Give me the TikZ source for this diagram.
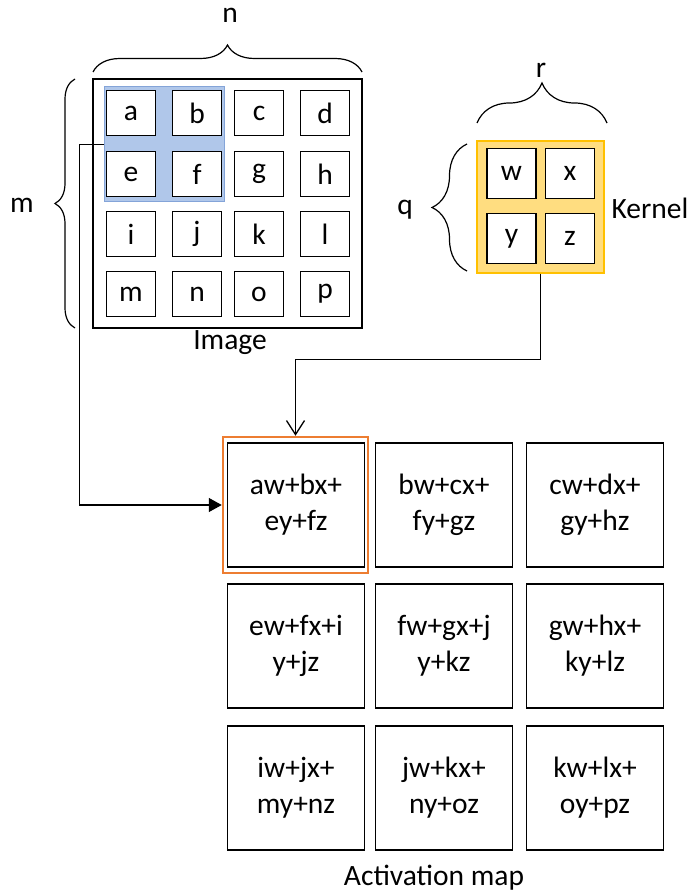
\documentclass[tikz,border=0pt]{standalone}
\usepackage{fontspec}
\setmainfont{Carlito}
\usetikzlibrary{arrows.meta,decorations.pathreplacing}
\definecolor{hlblue}{RGB}{176,199,234}
\definecolor{hlblueline}{RGB}{132,164,216}
\definecolor{kernfill}{RGB}{255,221,128}
\definecolor{kernline}{RGB}{255,192,0}
\definecolor{actorange}{RGB}{237,125,49}
\begin{document}
\begin{tikzpicture}[x=1pt,y=1pt,
  font=\fontsize{29.5}{36}\selectfont,
  cell/.style={draw,line width=1.6pt,fill=white,minimum width=49pt,minimum height=45pt,inner sep=0pt},
  kcell/.style={cell,minimum height=50pt},
  acell/.style={draw,line width=1.6pt,fill=white,minimum width=137pt,minimum height=124pt,align=center,inner sep=0pt},
  bracket/.style={decorate,line width=1.2pt,decoration={brace}}]
\useasboundingbox(0,0)rectangle(687,-893);
% image
\draw[line width=1.6pt](93,-79)rectangle(362,-328);
\node[fill=hlblue,draw=hlblueline,line width=1pt,minimum width=120pt,minimum height=115pt,inner sep=0pt](hl)at(164,-144.5){};
\node[cell](a)at(131,-113){a};
\node[cell](b)at(197,-113){b};
\node[cell](c)at(259,-113){c};
\node[cell](d)at(325,-113){d};
\node[cell](e)at(131,-174){e};
\node[cell](f)at(197,-174){f};
\node[cell](g)at(259,-174){g};
\node[cell](h)at(325,-174){h};
\node[cell](i)at(131,-234){i};
\node[cell](j)at(197,-234){j};
\node[cell](k)at(259,-234){k};
\node[cell](l)at(325,-234){l};
\node[cell](m)at(131,-294){m};
\node[cell](n)at(197,-294){n};
\node[cell](o)at(259,-294){o};
\node[cell](p)at(325,-294){p};
\node(imglabel)at(230,-343){Image};
\draw[bracket,decoration={amplitude=27pt}](93,-72)--(362,-72);
\node(nlabel)at(230,-15){n};
\draw[bracket,decoration={amplitude=20pt}](75,-328)--(75,-79);
\node(mlabel)at(22,-205){m};
% kernel
\node[fill=kernfill,draw=kernline,line width=1.4pt,minimum width=127pt,minimum height=132pt,inner sep=0pt](kern)at(540.5,-207){};
\node[kcell](w)at(511.5,-173.5){w};
\node[kcell](x)at(570,-173.5){x};
\node[kcell](y)at(511.5,-238.5){y};
\node[kcell](z)at(570,-238.5){z};
\node[anchor=west](kernlabel)at(608,-208){Kernel};
\draw[bracket,decoration={amplitude=40pt}](477,-123)--(607,-123);
\node(rlabel)at(541,-70){r};
\draw[bracket,decoration={amplitude=35pt}](467,-271)--(467,-144);
\node(qlabel)at(405,-210){q};
% activation map
\node[draw=actorange,line width=2.5pt,minimum width=145pt,minimum height=136pt](act)at(295.5,-505){};
\node[acell](aa)at(296,-505){aw+bx+\\ey+fz};
\node[acell](ab)at(444,-505){bw+cx+\\fy+gz};
\node[acell](ac)at(595,-505){cw+dx+\\gy+hz};
\node[acell](ba)at(296,-646){ew+fx+i\\y+jz};
\node[acell](bb)at(444,-646){fw+gx+j\\y+kz};
\node[acell](bc)at(595,-646){gw+hx+\\ky+lz};
\node[acell](ca)at(296,-788){iw+jx+\\my+nz};
\node[acell](cb)at(444,-788){jw+kx+\\ny+oz};
\node[acell](cc)at(595,-788){kw+lx+\\oy+pz};
\node(actlabel)at(434,-878){Activation map};
% connectors
\draw[line width=1.3pt,-{Triangle[length=13pt,width=14pt]}](hl.west)--++(-24,0)|-(act.west);
\draw[line width=1.3pt,-{Straight Barb[length=14pt,width=18pt]}](kern.south)--++(0,-86)-|(act.north);
\end{tikzpicture}
\end{document}
